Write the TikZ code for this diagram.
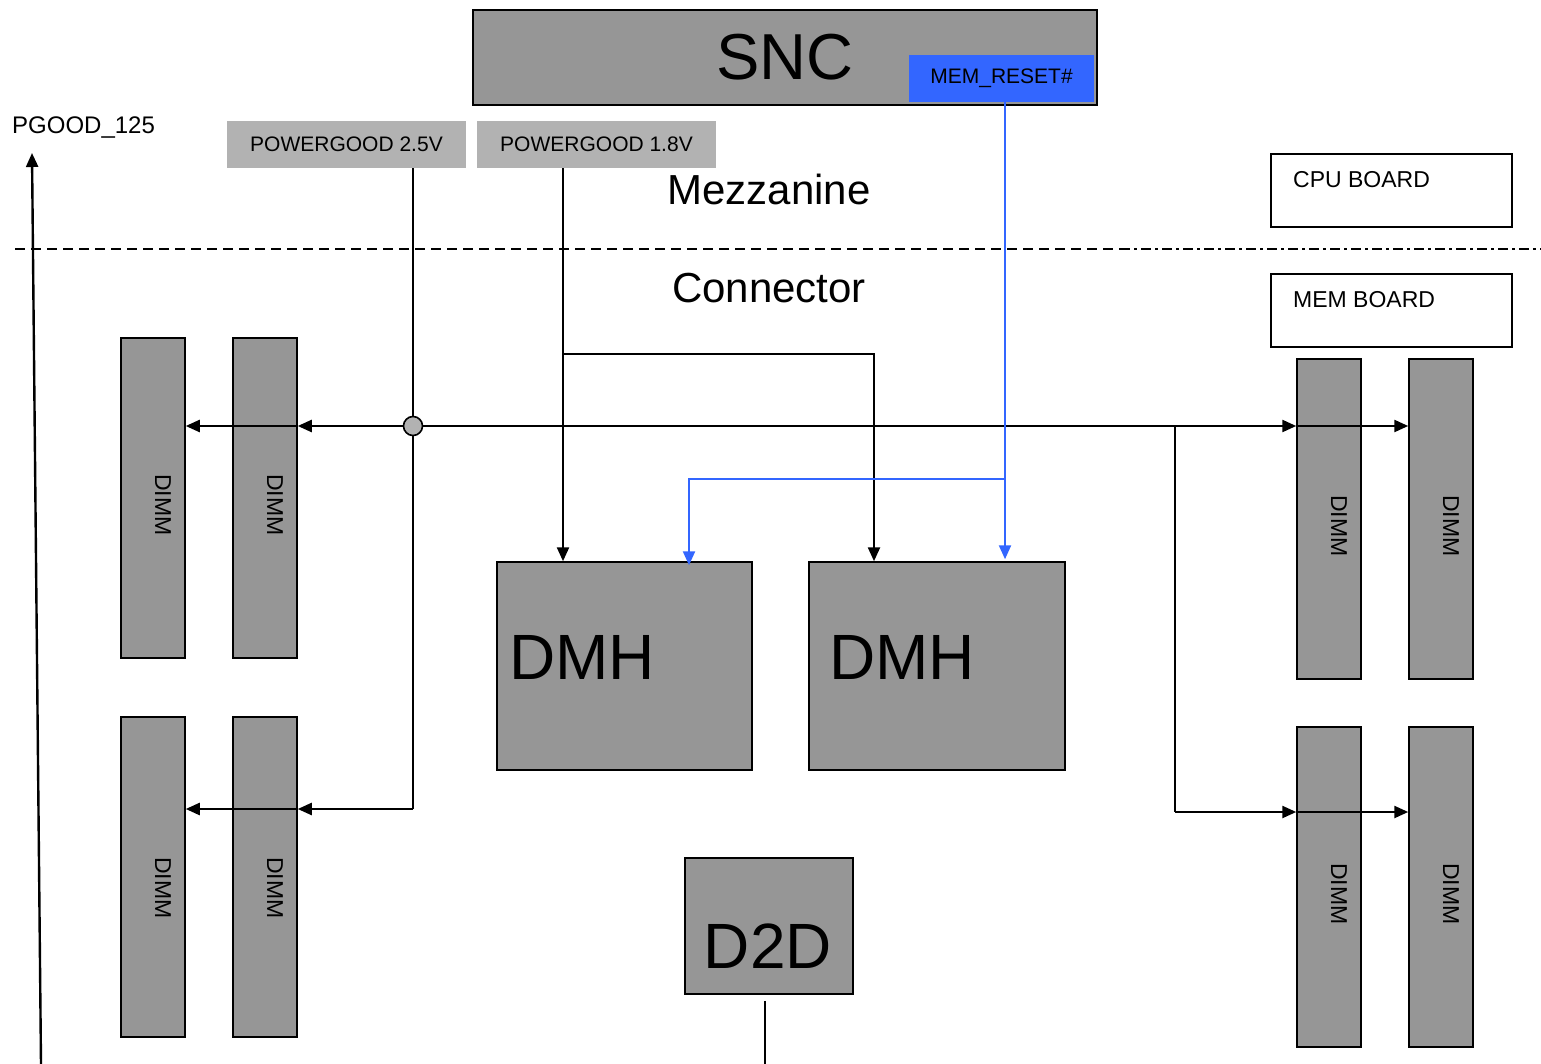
\documentclass[tikz,border=0pt]{standalone}
\usepackage{fontspec}
\setmainfont{Liberation Sans}
\usetikzlibrary{arrows.meta}
\definecolor{chip}{HTML}{969696}
\definecolor{pgbox}{HTML}{B2B2B2}
\definecolor{rstblue}{HTML}{3366FF}
\tikzset{
  chipbox/.style={draw=black, line width=1.5pt, fill=chip, inner sep=0pt},
  pglabel/.style={fill=pgbox, inner sep=0pt, minimum width=239pt, minimum height=47pt,
    font=\fontsize{21}{24}\selectfont, text=black},
  boardbox/.style={draw=black, line width=1.3pt, fill=white, inner sep=0pt,
    minimum width=241pt, minimum height=73pt},
  dimmbox/.style={chipbox, minimum width=64pt, minimum height=320pt},
  dimmtext/.style={rotate=-90, font=\fontsize{23}{26}\selectfont, inner sep=0pt},
  bigtext/.style={font=\fontsize{64}{68}\selectfont, inner sep=0pt},
  wire/.style={draw=black, line width=2.4pt},
  bluewire/.style={draw=rstblue, line width=2.2pt},
  tip/.style={-{Triangle[length=14pt,width=12pt]}},
}
\begin{document}
\begin{tikzpicture}[x=1pt,y=-1pt]
\useasboundingbox (0,0) rectangle (1541,1064);

% boards separator
\draw[line width=1.3pt, dash pattern=on 10pt off 6pt] (15,249) -- (1120,249);
\draw[line width=1.3pt, dash pattern=on 10pt off 4pt on 3pt off 4pt] (1120,249) -- (1541,249);

% SNC and its reset output
\node[chipbox, minimum width=624pt, minimum height=95pt] (snc) at (785,57.5) {};
\node[bigtext, font=\fontsize{65}{68}\selectfont] (snctxt) at (785,57) {SNC};
\node[fill=rstblue, inner sep=0pt, minimum width=185pt, minimum height=47pt,
  font=\fontsize{21}{24}\selectfont] (rst) at (1001.5,78.5) {MEM\_RESET\#};

% power-good sources
\node[pglabel] (pg25) at (346.5,144.5) {POWERGOOD 2.5V\hspace{5pt}};
\node[pglabel] (pg18) at (596.5,144.5) {POWERGOOD 1.8V\hspace{5pt}};
\node[anchor=west, font=\fontsize{24}{27}\selectfont, inner sep=0pt] (pgood) at (12,128) {PGOOD\_125};

% section titles
\node[font=\fontsize{42}{46}\selectfont, inner sep=0pt] (mezz) at (769,189) {Mezzanine};
\node[font=\fontsize{42}{46}\selectfont, inner sep=0pt] (conn) at (769,288) {Connector};

% board legend
\node[boardbox] (cpub) at (1391.5,190.5) {};
\node[anchor=west, font=\fontsize{23}{26}\selectfont, inner sep=0pt] (cpubt) at (1293,180) {CPU BOARD};
\node[boardbox] (memb) at (1391.5,310.5) {};
\node[anchor=west, font=\fontsize{23}{26}\selectfont, inner sep=0pt] (membt) at (1293,300) {MEM BOARD};

% DIMM slots
\node[dimmbox] (la1) at (153,498) {};
\node[dimmbox] (la2) at (265,498) {};
\node[dimmbox] (lb1) at (153,877) {};
\node[dimmbox] (lb2) at (265,877) {};
\node[dimmbox] (ra1) at (1329,519) {};
\node[dimmbox] (ra2) at (1441,519) {};
\node[dimmbox] (rb1) at (1329,887) {};
\node[dimmbox] (rb2) at (1441,887) {};
\node[dimmtext] (la1t) at (163,505) {DIMM};
\node[dimmtext] (la2t) at (275,505) {DIMM};
\node[dimmtext] (lb1t) at (163,888) {DIMM};
\node[dimmtext] (lb2t) at (275,888) {DIMM};
\node[dimmtext] (ra1t) at (1339,526) {DIMM};
\node[dimmtext] (ra2t) at (1451,526) {DIMM};
\node[dimmtext] (rb1t) at (1339,894) {DIMM};
\node[dimmtext] (rb2t) at (1451,894) {DIMM};

% memory hubs and D2D
\node[chipbox, minimum width=255pt, minimum height=208pt] (dmh1) at (624.5,666) {};
\node[chipbox, minimum width=256pt, minimum height=208pt] (dmh2) at (937,666) {};
\node[bigtext, anchor=west] (dmh1t) at (509,657) {DMH};
\node[bigtext, anchor=west] (dmh2t) at (829,657) {DMH};
\node[chipbox, minimum width=168pt, minimum height=136pt] (d2d) at (769,926) {};
\node[bigtext] (d2dt) at (768,946) {D2D};

% junction points
\coordinate (hub) at (413,426);
\coordinate (lbend) at (413,809);
\coordinate (split18) at (563,354);
\coordinate (rtap) at (1175,426);
\coordinate (rbend) at (1175,812);
\coordinate (rstsplit) at (1005,479);
\coordinate (pgbot) at (41,1064);
\coordinate (pgtop) at (32,153);
\coordinate (d2dend) at (765,1064);

% PGOOD_125 output
\draw[wire, tip] (pgbot) -- (pgtop);

% 2.5V power-good distribution
\draw[wire] (pg25.south -| hub) -- (lbend);
\draw[wire, tip] (lbend) -- (lbend -| lb2.east);
\draw[wire, tip] (lbend -| lb2.east) -- (lbend -| lb1.east);
\draw[wire, tip] (hub) -- (hub -| la2.east);
\draw[wire, tip] (hub -| la2.east) -- (hub -| la1.east);
\draw[wire, tip] (hub) -- (hub -| ra1.west);
\draw[wire, tip] (hub -| ra1.west) -- (hub -| ra2.west);
\draw[wire] (rtap) -- (rbend);
\draw[wire, tip] (rbend) -- (rbend -| rb1.west);
\draw[wire, tip] (rbend -| rb1.west) -- (rbend -| rb2.west);
\node[circle, draw=black, line width=1.6pt, fill=pgbox, minimum size=19pt, inner sep=0pt] (hubdot) at (hub) {};

% 1.8V power-good to the hubs
\draw[wire, tip] (pg18.south -| split18) -- (split18 |- dmh1.north);
\draw[wire, tip] (split18) -| (dmh2.north -| 874,0);

% memory reset
\draw[bluewire, tip] (rst.south -| rstsplit) -- ([yshift=2pt]rstsplit |- dmh2.north);
\draw[bluewire, tip] (rstsplit) -| ([yshift=-4pt]dmh1.north -| 689,0);

% D2D link
\draw[line width=2pt] ([yshift=-6pt]d2d.south -| d2dend) -- (d2dend);
\end{tikzpicture}
\end{document}
